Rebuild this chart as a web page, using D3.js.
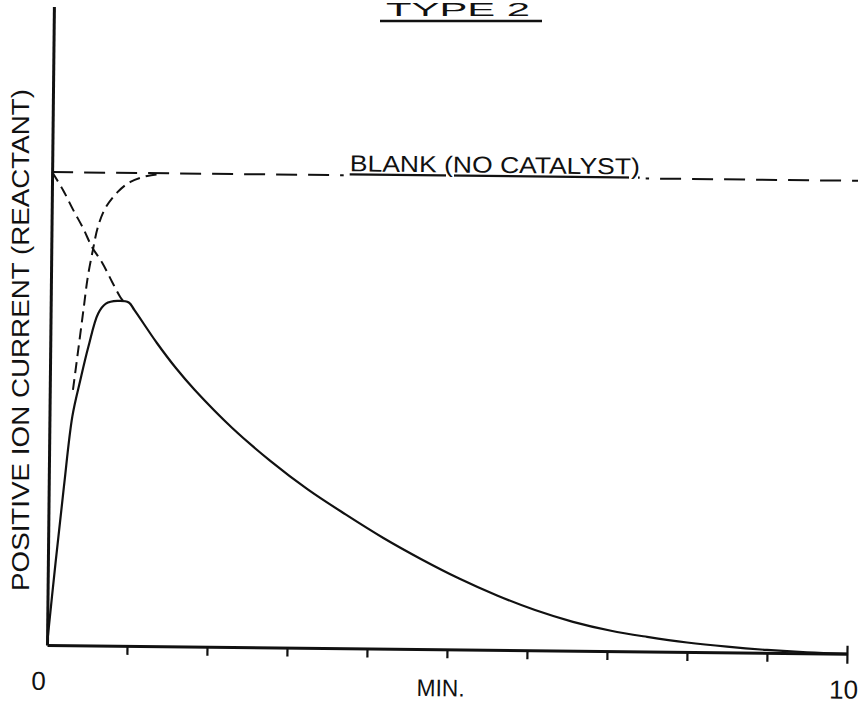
<!DOCTYPE html>
<html>
<head>
<meta charset="utf-8">
<script src="https://cdn.jsdelivr.net/npm/d3@7"></script>
<style>
  html, body { margin: 0; padding: 0; background: #fff; }
  svg { display: block; }
  text { font-family: "Liberation Sans", Arial, sans-serif; fill: #111; }
</style>
</head>
<body>
<svg id="chart" width="858" height="705"></svg>
<script>
// ---- data (time in minutes, current relative to blank level = 1) ----
const titleText = "TYPE 2";
const yLabel = "POSITIVE ION CURRENT (REACTANT)";
const xLabel = "MIN.";
const blankLabel = "BLANK (NO CATALYST)";
const xTickLabels = ["0", "10"];
const xTickValues = [0, 10];

const blankTime = [0, 10.3];
const blankCurrent = [1, 1];

const catalystTime = [0, 0.095, 0.19, 0.286, 0.381, 0.476, 0.595, 0.69, 0.833, 0.976, 1.048, 1.333, 1.571, 1.81, 2.286, 2.762, 3.238, 3.714, 4.19, 4.667, 5.143, 5.619, 6.095, 6.571, 7.048, 7.5, 8.0, 8.5, 9.0, 9.5, 10];
const catalystCurrent = [0, 0.173, 0.335, 0.484, 0.561, 0.631, 0.702, 0.723, 0.729, 0.726, 0.710, 0.641, 0.589, 0.543, 0.463, 0.395, 0.335, 0.283, 0.234, 0.190, 0.150, 0.115, 0.085, 0.061, 0.043, 0.031, 0.020, 0.012, 0.006, 0.002, 0];

const decayTime = [0, 0.14, 0.27, 0.395, 0.51, 0.64, 0.765, 0.87, 0.93];
const decayCurrent = [1, 0.962, 0.920, 0.882, 0.842, 0.809, 0.769, 0.737, 0.724];

const riseTime = [0.29, 0.35, 0.41, 0.46, 0.52, 0.58, 0.67, 0.82, 0.98, 1.19, 1.35];
const riseCurrent = [0.540, 0.624, 0.709, 0.779, 0.836, 0.885, 0.925, 0.959, 0.981, 0.994, 0.998];

// ---- layout ----
const svg = d3.select("#chart");
const x0 = 47, y0 = 645;
const x = d3.scaleLinear().domain([0, 10]).range([x0, 847]);
const y = d3.scaleLinear().domain([0, 1.35]).range([y0, y0 - 638.5]);
const tilt = 0.62;

const zip = (a, b) => a.map((t, i) => [t, b[i]]);
const line = d3.line().x(d => x(d[0])).y(d => y(d[1]));
const smooth = d3.line().x(d => x(d[0])).y(d => y(d[1])).curve(d3.curveCatmullRom.alpha(0.5));

const g = svg.append("g").attr("transform", `rotate(${tilt},${x0},${y0})`);

// axes
const xAxis = d3.axisBottom(x).ticks(10).tickSize(9).tickSizeOuter(0).tickFormat("");
const gx = g.append("g").attr("transform", `translate(0,${y0})`).call(xAxis);
gx.select(".domain").attr("stroke", "#111").attr("stroke-width", 3);
gx.selectAll(".tick line").attr("stroke", "#111").attr("stroke-width", 2.2);
gx.selectAll(".tick text").remove();
gx.selectAll(".tick").filter(d => d === 0).remove();
gx.selectAll(".tick").filter(d => d === 10).select("line").attr("y1", -8).attr("y2", 10);

const yAxis = d3.axisLeft(y).tickValues([]).tickSize(0).tickSizeOuter(0);
const gy = g.append("g").attr("transform", `translate(${x0},0)`).call(yAxis);
gy.select(".domain").attr("stroke", "#111").attr("stroke-width", 3);

// blank (no catalyst) dashed line
g.append("path").datum(zip(blankTime, blankCurrent))
  .attr("d", line).attr("fill", "none").attr("stroke", "#111")
  .attr("stroke-width", 2).attr("stroke-dasharray", "21,11");

// dashed decay and rise curves
g.append("path").datum(zip(decayTime, decayCurrent))
  .attr("d", smooth).attr("fill", "none").attr("stroke", "#111")
  .attr("stroke-width", 2).attr("stroke-dasharray", "11,6");
g.append("path").datum(zip(riseTime, riseCurrent))
  .attr("d", smooth).attr("fill", "none").attr("stroke", "#111")
  .attr("stroke-width", 2).attr("stroke-dasharray", "11,6");

// solid curve with catalyst
g.append("path").datum(zip(catalystTime, catalystCurrent))
  .attr("d", smooth).attr("fill", "none").attr("stroke", "#111")
  .attr("stroke-width", 2.2).attr("stroke-linejoin", "round");

// blank label sitting on the blank line
const labelLayer = g.append("g");
const bl = labelLayer.append("text")
  .attr("x", x(3.72)).attr("y", y(1) - 4)
  .attr("font-size", 23)
  .attr("textLength", 290).attr("lengthAdjust", "spacingAndGlyphs")
  .style("text-decoration", "underline")
  .text(blankLabel);
const bb = bl.node().getBBox();
labelLayer.insert("rect", () => bl.node())
  .attr("x", bb.x - 6).attr("y", y(1) - 6)
  .attr("width", bb.width + 12).attr("height", 12)
  .attr("fill", "#fff");

// x tick labels
g.selectAll("text.xt").data(xTickValues).enter().append("text")
  .attr("class", "xt")
  .attr("x", d => x(d) + (d === 0 ? -8 : -3))
  .attr("y", y0 + 45)
  .attr("text-anchor", "middle").attr("font-size", 26)
  .text((d, i) => xTickLabels[i]);
g.append("text")
  .attr("x", x(5) - 6).attr("y", y0 + 47)
  .attr("text-anchor", "middle").attr("font-size", 24)
  .attr("textLength", 48).attr("lengthAdjust", "spacingAndGlyphs")
  .text(xLabel);

// y label
svg.append("text")
  .attr("transform", "translate(29,340) rotate(-90)")
  .attr("text-anchor", "middle").attr("font-size", 23)
  .attr("textLength", 502).attr("lengthAdjust", "spacingAndGlyphs")
  .text(yLabel);

// title at the top edge, underlined
svg.append("text")
  .attr("x", 386).attr("y", 16)
  .attr("font-size", 19)
  .attr("textLength", 144).attr("lengthAdjust", "spacingAndGlyphs")
  .text(titleText);
svg.append("line")
  .attr("x1", 380).attr("x2", 542).attr("y1", 21).attr("y2", 21)
  .attr("stroke", "#111").attr("stroke-width", 2.5);
</script>
</body>
</html>
